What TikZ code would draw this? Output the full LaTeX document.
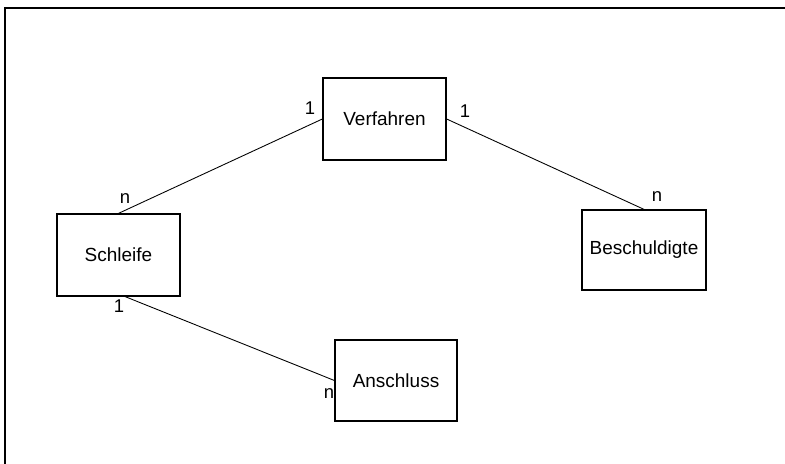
\documentclass[tikz,border=0pt]{standalone}
\usepackage{fontspec}
\setmainfont{Liberation Sans}
\usetikzlibrary{positioning}

\tikzset{
  entity/.style={draw, line width=0.7pt, minimum width=2.46cm, minimum height=1.64cm,
                 inner sep=0pt, font=\fontsize{10.8}{12}\selectfont},
  rel/.style={line width=0.5pt},
  card/.style={inner sep=0pt, font=\fontsize{10.5}{12}\selectfont}
}

\begin{document}
\begin{tikzpicture}
  \useasboundingbox (0,0) rectangle (15.7,9.28);
  % frame
  \draw[line width=0.8pt] (0.1,0) -- (0.1,9.12) -- (15.7,9.12);

  % entities
  \node[entity] (verf) at (7.69,6.9) {Verfahren};
  \node[entity] (schl) at (2.37,4.18) {Schleife};
  \node[entity, minimum width=2.48cm, minimum height=1.6cm] (besch) at (12.88,4.28) {Beschuldigte};
  \node[entity, minimum width=2.44cm, minimum height=1.62cm] (ansch) at (7.92,1.67) {Anschluss};

  % relationships
  \draw[rel] (verf.west) -- (schl.north);
  \draw[rel] (verf.east) -- (besch.north);
  \draw[rel] (schl.-81) -- (ansch.west);

  % cardinalities
  \node[card] (c1) at (6.2,7.12) {1};
  \node[card] (c2) at (9.3,7.06) {1};
  \node[card] (c3) at (2.5,5.3) {n};
  \node[card] (c4) at (13.14,5.34) {n};
  \node[card] (c5) at (2.38,3.16) {1};
  \node[card] (c6) at (6.58,1.4) {n};
\end{tikzpicture}
\end{document}
